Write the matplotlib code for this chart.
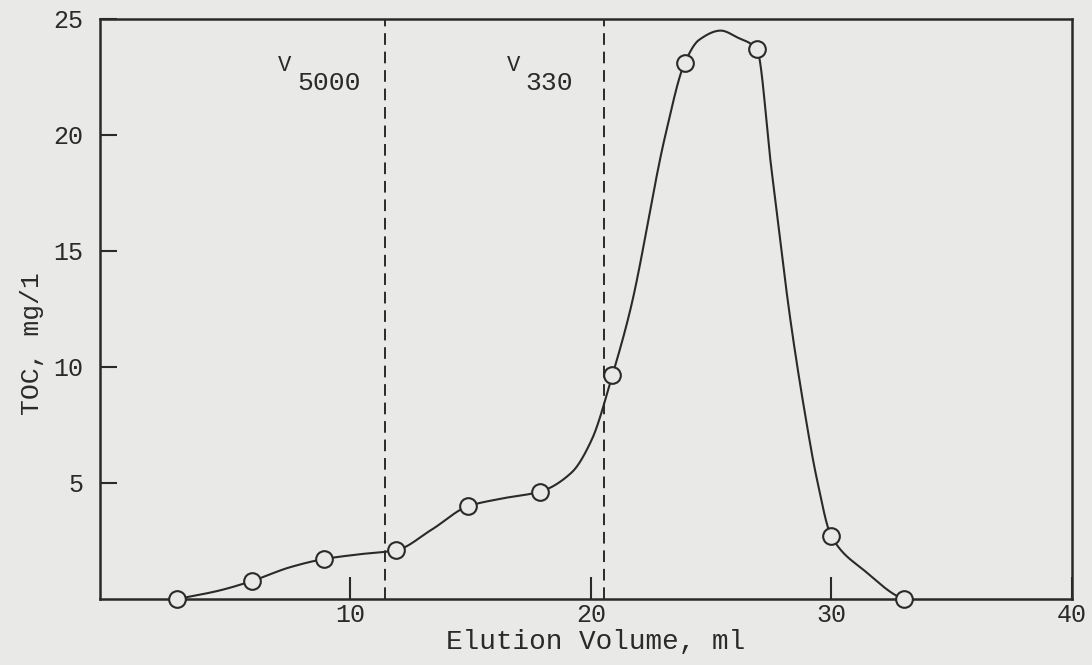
import numpy as np
import matplotlib
matplotlib.use("Agg")
import matplotlib.pyplot as plt

# fraction data (open circles)
vol = [2.8, 5.9, 8.9, 11.9, 14.9, 17.9, 20.9, 23.9, 26.9, 30.0, 33.0]
toc = [0.0, 0.77, 1.72, 2.1, 4.0, 4.63, 9.66, 23.1, 23.7, 2.7, 0.0]

# hand-drawn curve (passes through the circles)
curve_x = [2.8, 4.5, 5.9, 7.5, 8.9, 10.4, 11.9, 13.4, 14.9, 16.3, 17.9, 19.2,
           20.04, 20.9, 21.65, 23.1, 23.9, 24.5, 25.4, 26.1, 26.9, 27.5, 28.3,
           28.9, 29.4, 30.0, 31.4, 33.0]
curve_y = [0.0, 0.35, 0.77, 1.37, 1.72, 1.93, 2.1, 3.0, 4.0, 4.33, 4.63, 5.45,
           6.87, 9.66, 12.5, 20.0, 23.1, 24.1, 24.5, 24.2, 23.7, 18.6, 12.0,
           8.0, 5.15, 2.7, 1.2, 0.0]

markers_v = [11.45, 20.55]
marker_names = ["5000", "330"]

xticks = [10, 20, 30, 40]
yticks = [5, 10, 15, 20, 25]

ink = "#2a2a2a"
paper = "#e9e9e7"


def pchip(xs, ys, n=1500):
    # monotone cubic (PCHIP) through the traced points, no overshoot
    x = np.asarray(xs, float)
    y = np.asarray(ys, float)
    h = np.diff(x)
    d = np.diff(y) / h
    m = np.zeros_like(y)
    for i in range(1, len(x) - 1):
        if d[i - 1] * d[i] > 0:
            w1 = 2 * h[i] + h[i - 1]
            w2 = h[i] + 2 * h[i - 1]
            m[i] = (w1 + w2) / (w1 / d[i - 1] + w2 / d[i])
    m[0] = d[0]
    m[-1] = d[-1] * 0.5
    xx = np.linspace(x[0], x[-1], n)
    k = np.clip(np.searchsorted(x, xx) - 1, 0, len(x) - 2)
    t = (xx - x[k]) / h[k]
    h00 = 2 * t ** 3 - 3 * t ** 2 + 1
    h10 = t ** 3 - 2 * t ** 2 + t
    h01 = -2 * t ** 3 + 3 * t ** 2
    h11 = t ** 3 - t ** 2
    yy = h00 * y[k] + h10 * h[k] * m[k] + h01 * y[k + 1] + h11 * h[k] * m[k + 1]
    return xx, yy


plt.rcParams["font.family"] = ["Liberation Mono", "DejaVu Sans"]

fig = plt.figure(figsize=(10.92, 6.65), dpi=100, facecolor=paper)
ax = fig.add_axes([100 / 1092, 1 - 599 / 665, 972 / 1092, 580 / 665], facecolor=paper)

sx, sy = pchip(curve_x, curve_y)
ax.plot(sx, sy, color=ink, lw=1.5, zorder=3)
ax.plot(vol, toc, linestyle="none", marker="o", ms=12, mfc=paper,
        mec=ink, mew=1.5, zorder=4, clip_on=False)

for v in markers_v:
    ax.axvline(v, color=ink, lw=1.4, linestyle=(0, (6, 3.5)), zorder=2)

# V labels: V raised above the larger digits
ax.text(7.0, 22.75, "V", fontsize=16, color=ink)
ax.text(7.8, 21.95, marker_names[0], fontsize=19, color=ink)
ax.text(16.5, 22.75, "V", fontsize=16, color=ink)
ax.text(17.3, 21.95, marker_names[1], fontsize=19, color=ink)

ax.set_xlim(-0.4, 40)
ax.set_ylim(0, 25)
ax.set_xticks(xticks)
ax.set_yticks(yticks)
ax.set_xticklabels([str(t) for t in xticks])
ax.set_yticklabels([str(t) for t in yticks])
ax.tick_params(axis="x", direction="in", length=16, width=1.5, colors=ink,
               labelsize=18, pad=3)
ax.tick_params(axis="y", direction="in", length=12, width=1.5, colors=ink,
               labelsize=18, pad=12)
for s in ax.spines.values():
    s.set_linewidth(1.8)
    s.set_color(ink)

ax.set_xlabel("Elution Volume, ml", fontsize=20, color=ink)
ax.xaxis.set_label_coords(0.51, -0.052)
ax.set_ylabel("TOC, mg/1", fontsize=19, color=ink)
ax.yaxis.set_label_coords(-0.058, 0.44)

fig.savefig("out.png", dpi=100, facecolor=paper)
